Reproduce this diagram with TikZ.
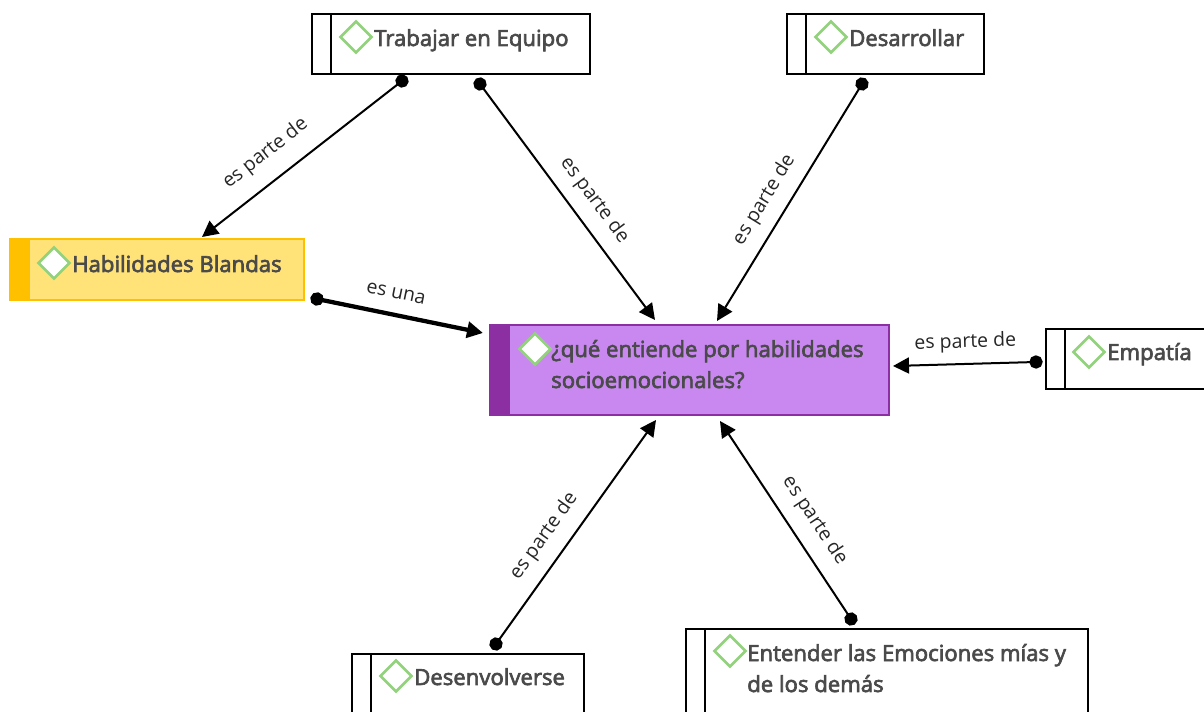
\documentclass[tikz,border=0pt]{standalone}
\usepackage{fontspec}
\setmainfont{Open Sans}
\newfontfamily\semifont[FakeBold=3]{Open Sans}
\usetikzlibrary{arrows.meta,shapes.geometric}
\definecolor{inkgray}{HTML}{4A4A4A}
\definecolor{mainfill}{HTML}{C888F0}
\definecolor{mainedge}{HTML}{8B2FA3}
\definecolor{softfill}{HTML}{FFE278}
\definecolor{softedge}{HTML}{FFC000}
\definecolor{markgreen}{HTML}{92D27C}
\tikzset{
  panel/.style={anchor=north west, draw=#1, line width=1.5pt, inner sep=0pt, outer sep=0pt,
    path picture={\fill[#1] (path picture bounding box.north west) rectangle
      ([xshift=15pt]path picture bounding box.south west);}},
  plainpanel/.style={anchor=north west, draw=black, fill=white, line width=1.5pt, inner sep=0pt, outer sep=0pt,
    path picture={\draw[line width=1.5pt] ([xshift=14.25pt]path picture bounding box.north west) --
      ([xshift=14.25pt]path picture bounding box.south west);}},
  checkmark/.style={diamond, draw=markgreen, fill=white, line width=2pt, aspect=1,
    minimum size=24pt, inner sep=0pt},
  title/.style={anchor=base west, inner sep=0pt, text=inkgray, font=\semifont\fontsize{16.6}{23.25}\selectfont, align=left},
  link/.style={line width=1.5pt, shorten <=-5pt, {Circle[length=10pt,width=10pt]}-{Triangle[length=12pt,width=12pt]}},
  strong/.style={line width=3.2pt, shorten <=-5pt, {Circle[length=10pt,width=10pt]}-{Triangle[length=12pt,width=12pt]}},
  tag/.style={inner sep=3pt, font=\fontsize{14.6}{16}\selectfont, text=black!85, sloped}
}
\begin{document}
\begin{tikzpicture}[x=0.75pt,y=-0.75pt]
  \path[use as bounding box, clip] (0,0) rectangle (1204,712);

  \node[plainpanel, minimum width=208.5pt, minimum height=45pt] (equipo) at (312,14) {};
  \node[plainpanel, minimum width=147.75pt, minimum height=45pt] (desarrollar) at (787,14) {};
  \node[panel=softedge, fill=softfill, minimum width=220.5pt, minimum height=45.75pt] (blandas) at (10,239) {};
  \node[panel=mainedge, fill=mainfill, minimum width=299.25pt, minimum height=67.5pt] (pregunta) at (489.5,325) {};
  \node[plainpanel, minimum width=140pt, minimum height=45pt] (empatia) at (1046,329) {};
  \node[plainpanel, minimum width=174pt, minimum height=60pt] (desenvolverse) at (352,654) {};
  \node[plainpanel, minimum width=301.5pt, minimum height=75pt] (emociones) at (686,629) {};

  \node[checkmark] (markequipo) at (356,37) {};
  \node[checkmark] (markdesarrollar) at (831,37) {};
  \node[checkmark] (markblandas) at (54,263) {};
  \node[checkmark] (markpregunta) at (535,349) {};
  \node[checkmark] (markempatia) at (1089,352) {};
  \node[checkmark] (markdesenvolverse) at (396,676) {};
  \node[checkmark] (markemociones) at (730,651) {};

  \node[title] (textequipo) at (374,46) {Trabajar en Equipo};
  \node[title] (textdesarrollar) at (849,46) {Desarrollar};
  \node[title] (textblandas) at (72,272) {Habilidades Blandas};
  \node[title] (textpregunta) at (551,388) {¿qué entiende por habilidades\\socioemocionales?};
  \node[title] (textempatia) at (1107,360) {Empatía};
  \node[title] (textdesenvolverse) at (414,685) {Desenvolverse};
  \node[title] (textemociones) at (747,692) {Entender las Emociones mías y\\de los demás};

  \coordinate (startA) at (402,81);
  \coordinate (startB) at (480,84);
  \coordinate (startC) at (862,84);
  \coordinate (startD) at (1036,362);
  \coordinate (startE) at (496,644);
  \coordinate (startF) at (851,619);
  \coordinate (startG) at (317,299);
  \coordinate (endA) at (202,237);
  \coordinate (endB) at (655,320);
  \coordinate (endC) at (717,321);
  \coordinate (endD) at (893,366);
  \coordinate (endE) at (656,420);
  \coordinate (endF) at (720,421);
  \coordinate (endG) at (483,333);

  \draw[link] (startA) -- (endA) node[tag, pos=0.6, above, yshift=9pt] (tagA) {es parte de};
  \draw[link] (startB) -- (endB) node[tag, pos=0.55, above, yshift=6pt] (tagB) {es parte de};
  \draw[link] (startC) -- (endC) node[tag, pos=0.54, above, yshift=6pt] (tagC) {es parte de};
  \draw[link] (startD) -- (endD) node[tag, pos=0.49, above, yshift=5pt] (tagD) {es parte de};
  \draw[link] (startE) -- (endE) node[tag, pos=0.42, above, yshift=6.5pt] (tagE) {es parte de};
  \draw[link] (startF) -- (endF) node[tag, pos=0.43, above, yshift=7pt] (tagF) {es parte de};
  \draw[strong] (startG) -- (endG) node[tag, pos=0.45, above, yshift=7.5pt] (tagG) {es una};
\end{tikzpicture}
\end{document}
